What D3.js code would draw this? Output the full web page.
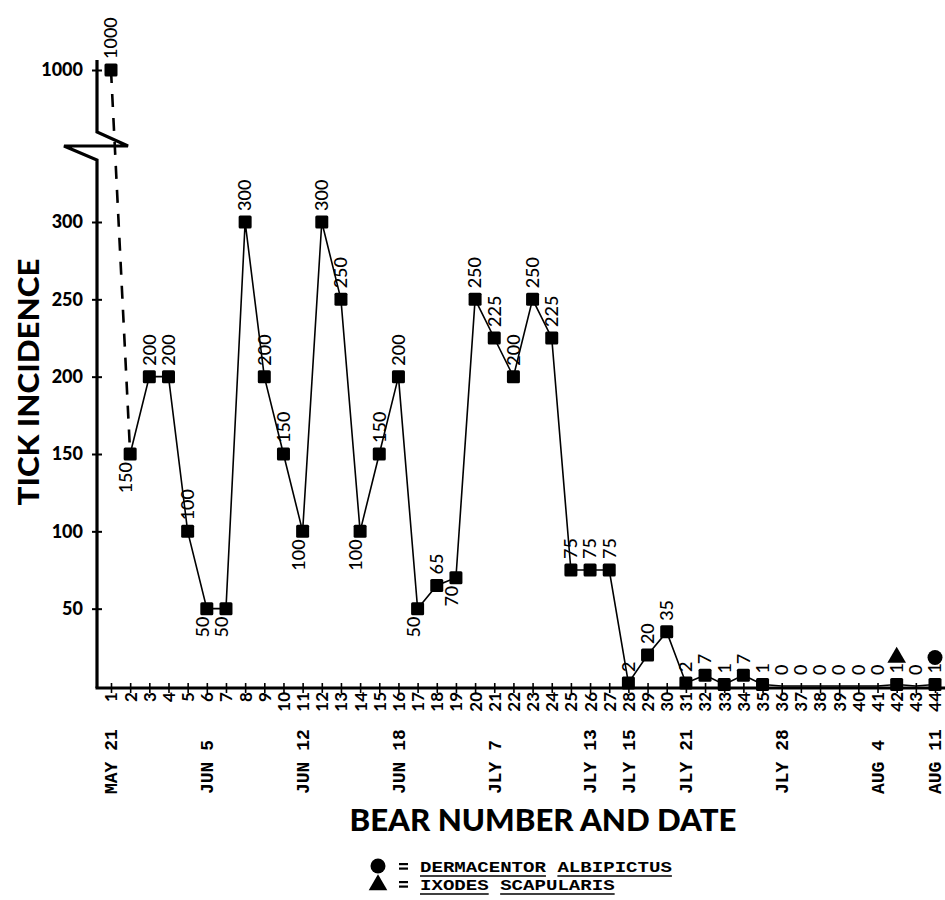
<!DOCTYPE html>
<html>
<head>
<meta charset="utf-8">
<script src="https://cdn.jsdelivr.net/npm/d3@7"></script>
<style>
  body { margin: 0; background: #fff; }
</style>
</head>
<body>
<div id="chart"></div>
<script>
// Tick counts per bear
const bears = [1,2,3,4,5,6,7,8,9,10,11,12,13,14,15,16,17,18,19,20,21,22,
               23,24,25,26,27,28,29,30,31,32,33,34,35,36,37,38,39,40,41,42,43,44];
const ticks = [1000,150,200,200,100,50,50,300,200,150,100,300,250,100,150,200,50,65,70,250,225,200,
               250,225,75,75,75,2,20,35,2,7,1,7,1,0,0,0,0,0,0,1,0,1];

// date labels under the bear numbers
const dateBears = [1,6,11,16,21,26,28,31,36,41,44];
const dateLabels = ["MAY 21","JUN 5","JUN 12","JUN 18","JLY 7","JLY 13","JLY 15","JLY 21","JLY 28","AUG 4","AUG 11"];

const yTicks = [50,100,150,200,250,300,1000];

// bears whose value label sits under the point
const belowBears = [2,6,7,11,14,17,19];

// species symbols
const speciesBears = [42,44];
const speciesTypes = ["triangle","circle"];
const legendSymbols = ["circle","triangle"];
const legendNames = ["DERMACENTOR ALBIPICTUS","IXODES SCAPULARIS"];

const width = 945, height = 900;

const svg = d3.select("#chart").append("svg")
  .attr("width", width)
  .attr("height", height);

const data = bears.map((b, i) => ({bear: b, value: ticks[i]}));

// scales (broken y axis: 300 -> 1000 squeezed)
const x = d3.scalePoint().domain(bears).range([111, 935]);
const y = d3.scaleLinear().domain([0, 300, 1000]).range([686, 222, 70]);

const axisX = 97, axisY = 688;
const breakY = (y(300) + y(1000)) / 2;

// y axis line with break
const yLine = d3.line();
svg.append("path")
  .attr("d", yLine([[axisX, 60], [axisX, breakY - 14], [axisX + 31, breakY], [axisX - 33, breakY], [axisX, breakY + 14], [axisX, axisY]]))
  .attr("fill", "none")
  .attr("stroke", "#000")
  .attr("stroke-width", 3.2)
  .attr("stroke-linejoin", "miter");

// x axis line
svg.append("line")
  .attr("x1", axisX - 1.5).attr("x2", width)
  .attr("y1", axisY).attr("y2", axisY)
  .attr("stroke", "#000").attr("stroke-width", 3.2);

// y ticks
const gy = svg.append("g")
  .attr("transform", `translate(${axisX},0)`)
  .call(d3.axisLeft(y).tickValues(yTicks).tickFormat(d3.format("d")).tickSize(0).tickPadding(14));
gy.select(".domain").remove();
gy.selectAll(".tick line").attr("x1", -5).attr("x2", 5).attr("stroke-width", 2);
gy.selectAll(".tick text")
  .attr("font-family", "Lato, 'Open Sans', sans-serif")
  .attr("font-weight", 900)
  .attr("font-size", "18px")
  .attr("fill", "#000");

// x ticks (bear numbers, rotated)
const gx = svg.append("g")
  .attr("transform", `translate(0,${axisY})`)
  .call(d3.axisBottom(x).tickSize(0));
gx.select(".domain").remove();
gx.selectAll(".tick line").attr("y1", -5).attr("y2", 5).attr("stroke-width", 1.6);
gx.selectAll(".tick text")
  .attr("transform", "rotate(-90)")
  .attr("x", -4)
  .attr("y", 0)
  .attr("dy", "0.35em")
  .attr("text-anchor", "end")
  .attr("font-family", "Lato, 'Open Sans', sans-serif")
  .attr("font-weight", "bold")
  .attr("font-size", "17px")
  .attr("fill", "#000");

// date labels
svg.append("g").selectAll("text")
  .data(dateBears)
  .enter().append("text")
    .attr("transform", d => `translate(${x(d)},794) rotate(-90)`)
    .attr("dy", "0.35em")
    .attr("text-anchor", "start")
    .attr("font-family", "'Liberation Mono', 'Courier New', monospace")
    .attr("font-weight", "bold")
    .attr("font-size", "18px")
    .text((d, i) => dateLabels[i]);

// connecting lines: dashed for the 1000 jump, solid for the rest
const line = d3.line().x(d => x(d.bear)).y(d => y(d.value));
svg.append("path")
  .datum(data.slice(0, 2))
  .attr("d", line)
  .attr("fill", "none")
  .attr("stroke", "#000")
  .attr("stroke-width", 2.6)
  .attr("stroke-dasharray", "13,11");
svg.append("path")
  .datum(data.slice(1))
  .attr("d", line)
  .attr("fill", "none")
  .attr("stroke", "#000")
  .attr("stroke-width", 1.6);

// square markers (only where ticks were found)
const sq = 13;
svg.append("g").selectAll("rect")
  .data(data.filter(d => d.value > 0))
  .enter().append("rect")
    .attr("x", d => x(d.bear) - sq / 2)
    .attr("y", d => y(d.value) - sq / 2)
    .attr("width", sq)
    .attr("height", sq)
    .attr("rx", 1.5)
    .attr("fill", "#000");

// value labels
svg.append("g").selectAll("text")
  .data(data)
  .enter().append("text")
    .attr("transform", d => belowBears.includes(d.bear)
      ? `translate(${x(d.bear) - 4},${y(d.value) + 8}) rotate(-90)`
      : `translate(${x(d.bear)},${y(d.value) - 11}) rotate(-90)`)
    .attr("text-anchor", d => belowBears.includes(d.bear) ? "end" : "start")
    .attr("dy", "0.35em")
    .attr("font-family", "Lato, 'Open Sans', sans-serif")
    .attr("font-weight", 500)
    .attr("font-size", "18px")
    .attr("fill", "#000")
    .text(d => d.value);

// species symbols above the labels
function drawSymbol(g, type, cx, cy) {
  if (type === "circle") {
    g.append("circle").attr("cx", cx).attr("cy", cy).attr("r", 7.5).attr("fill", "#000");
  } else {
    g.append("path")
      .attr("d", d3.symbol().type(d3.symbolTriangle).size(150)())
      .attr("transform", `translate(${cx},${cy})`)
      .attr("fill", "#000");
  }
}
const gs = svg.append("g");
speciesBears.forEach((b, i) => {
  const v = ticks[bears.indexOf(b)];
  drawSymbol(gs, speciesTypes[i], x(b), y(v) - 27);
});

// axis titles
svg.append("text")
  .attr("transform", "translate(29,382) rotate(-90)")
  .attr("text-anchor", "middle")
  .attr("dy", "0.35em")
  .attr("font-family", "Lato, 'Open Sans', sans-serif")
  .attr("font-weight", 900)
  .attr("font-size", "28px")
  .attr("textLength", 247)
  .attr("lengthAdjust", "spacingAndGlyphs")
  .text("TICK INCIDENCE");

svg.append("text")
  .attr("x", 543)
  .attr("y", 831)
  .attr("text-anchor", "middle")
  .attr("font-family", "Lato, 'Open Sans', sans-serif")
  .attr("font-weight", 900)
  .attr("font-size", "31px")
  .attr("textLength", 387)
  .attr("lengthAdjust", "spacingAndGlyphs")
  .text("BEAR NUMBER AND DATE");

// legend
const legend = svg.append("g");
legendNames.forEach((name, i) => {
  const ly = 866 + i * 18;
  drawSymbol(legend, legendSymbols[i], 378, ly + (i ? 1 : 0));
  // "=" sign drawn as two short bars
  legend.append("rect").attr("x", 399).attr("y", ly - 3).attr("width", 9).attr("height", 2.2).attr("fill", "#000");
  legend.append("rect").attr("x", 399).attr("y", ly + 1.5).attr("width", 9).attr("height", 2.2).attr("fill", "#000");
  const t = legend.append("text")
    .attr("x", 420).attr("y", ly + 6)
    .attr("font-family", "'Liberation Mono', 'Courier New', monospace")
    .attr("font-weight", "bold")
    .attr("font-size", "15.5px")
    .attr("textLength", name.length * 11.45)
    .attr("lengthAdjust", "spacingAndGlyphs")
    .text(name);
  // underline each word separately
  let idx = 0;
  name.split(" ").forEach(w => {
    const node = t.node();
    const x0 = node.getStartPositionOfChar(idx).x;
    const x1 = node.getEndPositionOfChar(idx + w.length - 1).x;
    legend.append("line")
      .attr("x1", x0).attr("x2", x1)
      .attr("y1", ly + 10).attr("y2", ly + 10)
      .attr("stroke", "#000").attr("stroke-width", 1.6);
    idx += w.length + 1;
  });
});
</script>
</body>
</html>
